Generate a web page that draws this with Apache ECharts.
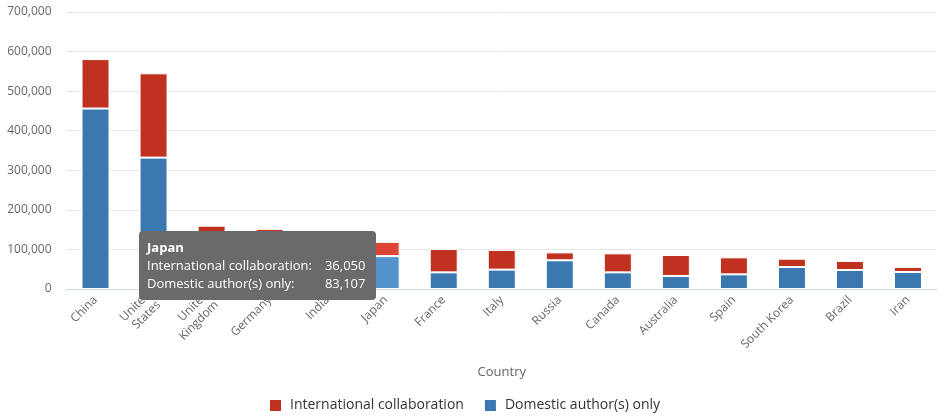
<!DOCTYPE html>
<html><head><meta charset="utf-8">
<script src="https://cdn.jsdelivr.net/npm/echarts@6/dist/echarts.min.js"></script>
<style>html,body{margin:0;padding:0;background:#fff;}#c{width:937px;height:418px;}</style>
</head><body><div id="c"></div>
<script>
const categories = ['China','United\nStates','United\nKingdom','Germany','India','Japan','France','Italy','Russia','Canada','Australia','Spain','South Korea','Brazil','Iran'];
const international = [125000, 213000, 98000, 88000, 30000, 36050, 59000, 49500, 20000, 48000, 53000, 43000, 21000, 23000, 12600];
const domestic = [456000, 332000, 62000, 64000, 95000, 83107, 42000, 49000, 72500, 42000, 33000, 37000, 55600, 48000, 43000];
const yTicks = [0, 100000, 200000, 300000, 400000, 500000, 600000, 700000];
const highlightIndex = 5;

const fmt = v => v.toLocaleString('en-US');
const chart = echarts.init(document.getElementById('c'), null, {renderer: 'canvas'});
const font = '"Open Sans", sans-serif';
chart.setOption({
  animation: false,
  grid: {left: 66.5, width: 874, top: 12, bottom: 129, containLabel: false},
  tooltip: {
    trigger: 'axis', triggerOn: 'none', alwaysShowContent: true,
    axisPointer: {type: 'none'},
    position: [139, 231],
    backgroundColor: 'rgb(106,106,109)', borderWidth: 0, padding: [7, 11, 8, 8],
    extraCssText: 'box-shadow:none;border-radius:4px;',
    textStyle: {color: '#fff', fontFamily: font, fontSize: 13},
    formatter: function (params) {
      const i = params[0].dataIndex;
      const name = categories[i].replace('\n', ' ');
      return '<div style="font-family:Open Sans,sans-serif;font-size:13px;line-height:18px;color:#fff">' +
        '<b>' + name + '</b><table style="border-collapse:collapse;color:#fff;font-size:13px;line-height:18px">' +
        '<tr><td style="padding:0 13px 0 0">International collaboration:</td><td style="text-align:right;padding:0">' + fmt(international[i]) + '</td></tr>' +
        '<tr><td style="padding:0 13px 0 0">Domestic author(s) only:</td><td style="text-align:right;padding:0">' + fmt(domestic[i]) + '</td></tr></table></div>';
    }
  },
  legend: {
    bottom: 0, left: 263, itemWidth: 13, itemHeight: 13, itemGap: 19, icon: 'rect',
    data: ['International collaboration', 'Domestic author(s) only'],
    textStyle: {color: '#333', fontFamily: font, fontSize: 14, padding: [0, 0, 0, 3]}
  },
  xAxis: {
    type: 'category', data: categories,
    name: 'Country', nameLocation: 'middle', nameGap: 77,
    nameTextStyle: {color: '#666', fontFamily: font, fontSize: 13},
    axisLine: {lineStyle: {color: '#ccd6eb'}},
    axisTick: {alignWithLabel: true, length: 9, lineStyle: {color: '#ccd6eb'}},
    axisLabel: {rotate: 45, color: '#666', fontFamily: font, fontSize: 12, margin: 9, interval: 0, lineHeight: 14}
  },
  yAxis: {
    type: 'value', min: yTicks[0], max: yTicks[yTicks.length - 1], interval: yTicks[1] - yTicks[0],
    axisLabel: {color: '#666', fontFamily: font, fontSize: 12, margin: 15, formatter: v => fmt(v)},
    axisLine: {show: false}, axisTick: {show: false},
    splitLine: {lineStyle: {color: '#e6e6e6'}}
  },
  series: [
    {name: 'Domestic author(s) only', type: 'bar', stack: 'a', data: domestic, barWidth: 28,
      itemStyle: {color: '#3b78b0', borderColor: '#fff', borderWidth: 1},
      emphasis: {focus: 'none', itemStyle: {color: '#5593cd', borderColor: '#fff', borderWidth: 1}}},
    {name: 'International collaboration', type: 'bar', stack: 'a', data: international, barWidth: 28,
      itemStyle: {color: '#c1311f', borderColor: '#fff', borderWidth: 1},
      emphasis: {focus: 'none', itemStyle: {color: '#df4535', borderColor: '#fff', borderWidth: 1}}}
  ]
});
chart.dispatchAction({type: 'highlight', seriesIndex: [0, 1], dataIndex: highlightIndex});
chart.dispatchAction({type: 'showTip', seriesIndex: 0, dataIndex: highlightIndex});
</script></body></html>
